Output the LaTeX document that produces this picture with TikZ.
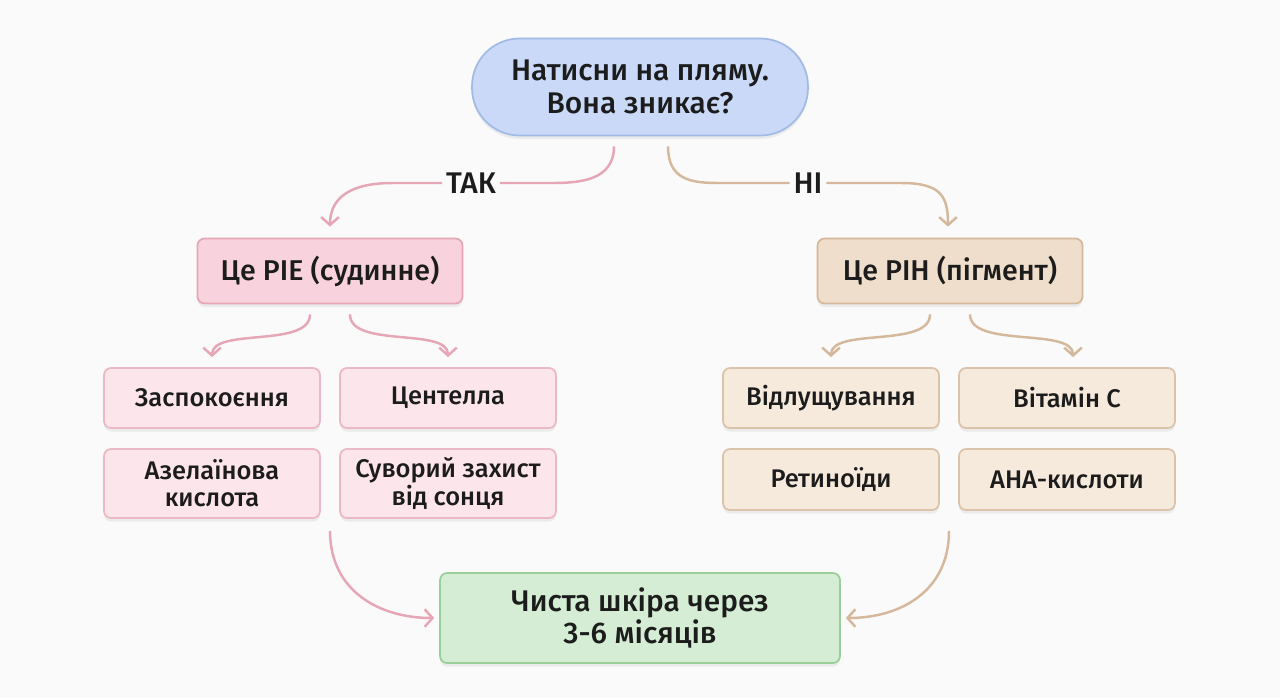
\documentclass[tikz,border=0pt]{standalone}
\usepackage{fontspec}
\setmainfont{Fira Sans}[UprightFont={* Medium}]
\usetikzlibrary{arrows.meta, positioning, calc, shadows}
\definecolor{bgcol}{HTML}{FAFAFA}
\definecolor{inkcol}{HTML}{1C1C1C}
\definecolor{askfill}{HTML}{C9D9F7}
\definecolor{askline}{HTML}{A2BBE5}
\definecolor{piefill}{HTML}{F8D3DD}
\definecolor{pieline}{HTML}{E6A6B6}
\definecolor{pieleaf}{HTML}{FCE5EB}
\definecolor{pihfill}{HTML}{EFDECB}
\definecolor{pihline}{HTML}{D5B89B}
\definecolor{pihleaf}{HTML}{F6EADD}
\definecolor{okfill}{HTML}{D5EDD4}
\definecolor{okline}{HTML}{99CF99}
\tikzset{
  box/.style={rectangle, draw, line width=1pt, rounded corners=4pt, align=center,
    text=inkcol, font=\fontsize{14.5}{15.5}\selectfont,
    drop shadow={opacity=0.12, shadow xshift=0pt, shadow yshift=-2pt}},
  question/.style={box, fill=askfill, draw=askline, minimum width=6.72cm, minimum height=1.94cm, rounded corners=0.95cm, font=\fontsize{17}{18.5}\selectfont},
  piebox/.style={box, fill=piefill, draw=pieline, minimum width=5.3cm, minimum height=1.3cm, font=\fontsize{16.3}{17}\selectfont},
  pihbox/.style={box, fill=pihfill, draw=pihline, minimum width=5.3cm, minimum height=1.3cm, font=\fontsize{16.3}{17}\selectfont},
  pieitem/.style={box, fill=pieleaf, draw=pieline!80, minimum width=4.32cm, minimum height=1.2cm},
  pihitem/.style={box, fill=pihleaf, draw=pihline!85, minimum width=4.32cm, minimum height=1.2cm},
  result/.style={box, fill=okfill, draw=okline, minimum width=8cm, minimum height=1.8cm, font=\fontsize{17}{18.5}\selectfont},
  answer/.style={text=inkcol, font=\fontsize{17}{17}\selectfont, inner sep=2pt},
  pinkarrow/.style={-{Straight Barb[length=4.5pt, width=10pt]}, line width=1.4pt, draw=pieline},
  tanarrow/.style={-{Straight Barb[length=4.5pt, width=10pt]}, line width=1.4pt, draw=pihline},
}
\begin{document}
\begin{tikzpicture}[x=0.02cm, y=-0.02cm]
  \fill[bgcol] (0,0) rectangle (1280,698);
  \useasboundingbox (0,0) rectangle (1280,698);

  % question
  \node[question] (ask) at (640,87) {Натисни на пляму.\\Вона зникає?};
  \node[answer] (yes) at (471,183) {ТАК};
  \node[answer] (no) at (808,183) {НІ};

  % two kinds
  \node[piebox] (pie) at (330,271) {Це PIE (судинне)};
  \node[pihbox] (pih) at (950,271) {Це PIH (пігмент)};

  % PIE care
  \node[pieitem] (calm) at (212,398) {Заспокоєння};
  \node[pieitem] (centella) at (448,398) {Центелла};
  \node[pieitem, minimum height=1.38cm] (azel) at (212,483.5) {Азелаїнова\\кислота};
  \node[pieitem, minimum height=1.38cm] (spf) at (448,483.5) {Суворий захист\\від сонця};

  % PIH care
  \node[pihitem] (peel) at (831,398) {Відлущування};
  \node[pihitem] (vitc) at (1067,398) {Вітамін С};
  \node[pihitem, minimum height=1.22cm] (retin) at (831,479.5) {Ретиноїди};
  \node[pihitem, minimum height=1.22cm] (aha) at (1067,479.5) {АНА-кислоти};

  % result
  \node[result] (clear) at (640,618) {Чиста шкіра через\\3-6 місяців};

  % question -> answers
  \draw[pinkarrow, -] ($(ask.south)+(-26,10)$) .. controls +(0,34) and +(28,0) .. ($(yes.east)+(52,0)$) -- (yes.east);
  \draw[pinkarrow] (yes.west) -- ($(yes.west)+(-50,0)$) .. controls +(-40,0) and +(0,-30) .. ($(pie.north)+(0,-11)$);
  \draw[tanarrow, -] ($(ask.south)+(28,10)$) .. controls +(0,34) and +(-28,0) .. ($(no.west)+(-70,0)$) -- (no.west);
  \draw[tanarrow] (no.east) -- ($(no.east)+(75,0)$) .. controls +(40,0) and +(0,-30) .. ($(pih.north)+(-2,-11)$);

  % kinds -> care
  \draw[pinkarrow] ($(pie.south)+(-20,10)$) .. controls +(0,34) and +(0,-30) .. ($(calm.north)+(0,-10)$);
  \draw[pinkarrow] ($(pie.south)+(20,10)$) .. controls +(0,34) and +(0,-30) .. ($(centella.north)+(0,-10)$);
  \draw[tanarrow] ($(pih.south)+(-20,10)$) .. controls +(0,34) and +(0,-30) .. ($(peel.north)+(0,-10)$);
  \draw[tanarrow] ($(pih.south)+(20,10)$) .. controls +(0,34) and +(0,-30) .. ($(vitc.north)+(6,-10)$);

  % care -> result
  \draw[pinkarrow] ($(azel.south east)!0.5!(spf.south west)+(0,12)$) .. controls +(0,60) and +(-55,0) .. ($(clear.west)+(-5,0)$);
  \draw[tanarrow] ($(retin.south east)!0.5!(aha.south west)+(0,20)$) .. controls +(0,60) and +(55,0) .. ($(clear.east)+(5,0)$);
\end{tikzpicture}
\end{document}
